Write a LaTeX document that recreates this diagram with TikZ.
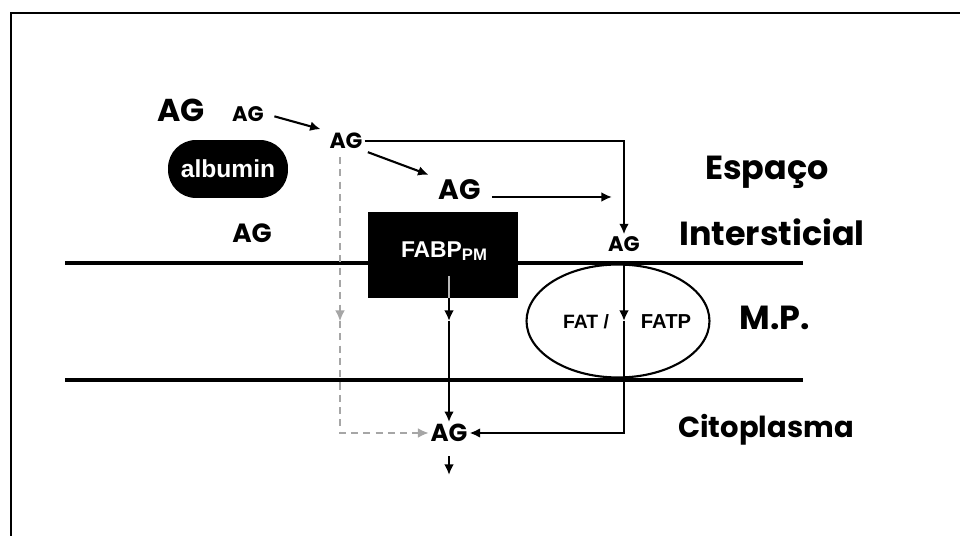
\documentclass[tikz,border=0pt]{standalone}
\usepackage{fontspec}
\setmainfont{Liberation Sans}
\newfontfamily\decofont{Poppins}
\usetikzlibrary{arrows.meta,positioning,shapes.geometric}

\begin{document}
\begin{tikzpicture}[x=0.02cm,y=-0.02cm,>={Latex[length=6pt,width=5.5pt]}]
\tikzset{
  ag/.style={font=\decofont\bfseries\fontsize{#1}{#1}\selectfont,inner sep=1pt},
  region/.style={font=\decofont\bfseries\fontsize{#1}{22}\selectfont,inner sep=0pt},
  flow/.style={->,line width=1.2pt},
  dflow/.style={->,gray!70,line width=0.7pt,dash pattern=on 4pt off 3pt},
  membrane/.style={line width=2pt},
  label/.style={font=\bfseries\fontsize{#1}{#1}\selectfont,inner sep=0pt}
}
\useasboundingbox (0,0) rectangle (960,536);
\draw[line width=1.3pt] (11,536) -- (11,13) -- (960,13);

% membrana plasmatica
\draw[membrane] (65,263) -- (803,263);
\draw[membrane] (65,380) -- (803,380);

% espaco intersticial
\node[ag=18] (agbig) at (181,110) {AG};
\node[ag=12] (agsmall) at (248,114) {AG};
\node[ag=12.5] (agtop) at (346,141) {AG};
\node[ag=16] (agmid) at (460,190) {AG};
\node[ag=15] (agfree) at (252,233) {AG};
\node[ag=12] (agmem) at (624,244) {AG};
\node[ag=14] (agcyto) at (449,433) {AG};
\node[fill=black,text=white,rounded corners=0.56cm,minimum width=2.4cm,minimum height=1.16cm,label=14] (alb) at (228,169) {albumin};
\node[fill=black,text=white,minimum width=3cm,minimum height=1.72cm] (fabp) at (443,255) {};
\node[text=white,label=13] (fabptxt) at (444,251) {FABP\raisebox{-2pt}{\fontsize{9.5}{9.5}\selectfont PM}};
\node[draw,ellipse,line width=1.2pt,minimum width=3.66cm,minimum height=2.26cm] (fat) at (618,321) {};
\node[label=11] (fatl) at (586,322) {FAT /};
\node[label=11.5] (fatr) at (666,322) {FATP};

% regioes
\node[region=19] (esp) at (767,172) {Espaço};
\node[region=19] (inter) at (772,232) {Intersticial};
\node[region=19] (mp) at (775,318) {M.P.};
\node[region=16.5] (cito) at (766,430) {Citoplasma};

% fluxos
\coordinate (tipa) at (612,197);
\coordinate (fin) at (agmem.south |- fat.north);
\coordinate (fmid) at (agmem.south |- fat.center);
\coordinate (fabpx) at (449,276);
\coordinate (dtop) at (340,157);
\coordinate (out) at (449,475);
\draw[flow,shorten <=5pt,shorten >=4pt] (agsmall.east) -- (agtop.north west);
\draw[flow] (agtop.east) -| (agmem.north);
\draw[flow,shorten <=2pt,shorten >=5pt] (agtop.south east) -- (agmid.north west);
\draw[flow,shorten <=5pt] (agmid.east |- tipa) -- (tipa);
\draw[flow] (fin) -- (fmid);
\draw[flow] (fmid) |- (agcyto.east);
\draw[gray!55,line width=0.6pt] (fabpx) -- (fabpx |- fabp.south);
\draw[flow] (fabpx |- fabp.south) -- (fabpx |- fat.center);
\draw[flow] (fabpx |- fat.center) -- (agcyto.north);
\draw[dflow] (dtop) -- (dtop |- fat.center);
\draw[dflow] (dtop |- fat.center) |- (agcyto.west);
\draw[flow,shorten <=7pt] (agcyto.south) -- (out);
\end{tikzpicture}
\end{document}
